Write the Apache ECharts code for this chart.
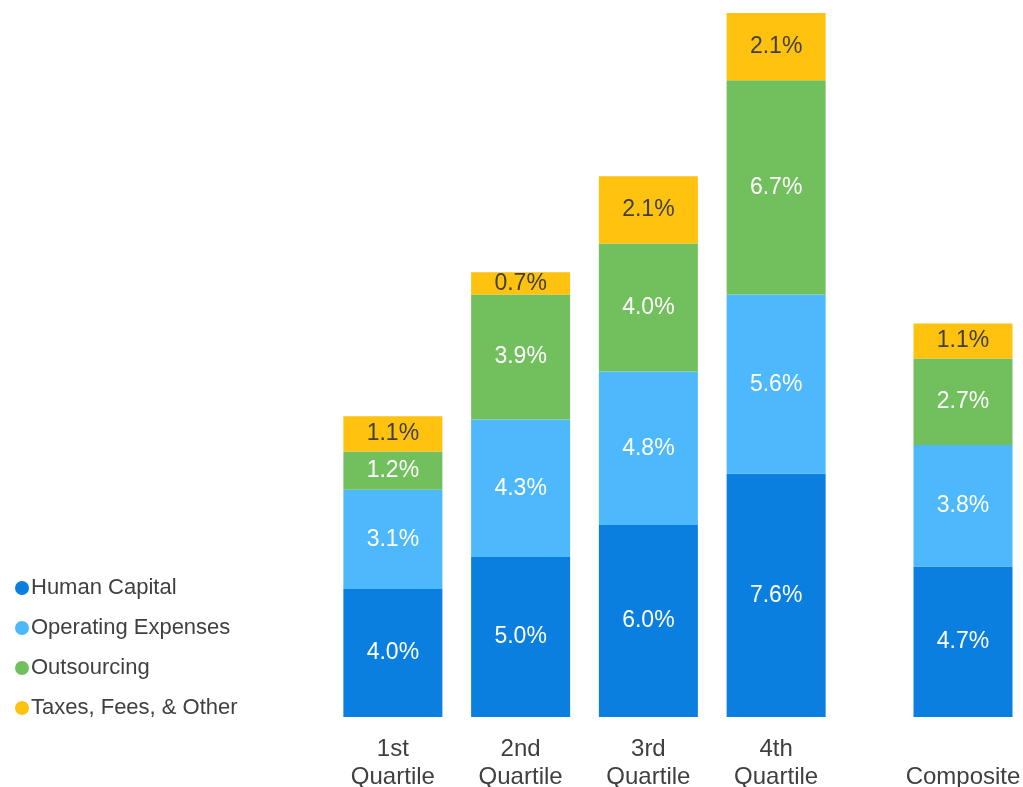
<!DOCTYPE html>
<html>
<head>
<meta charset="utf-8">
<script src="https://cdn.jsdelivr.net/npm/echarts@6/dist/echarts.min.js"></script>
<style>
html,body{margin:0;padding:0;background:#fff;}
#chart{width:1023px;height:787px;}
</style>
</head>
<body>
<div id="chart"></div>
<script>
var quartileCategories = ['1st\nQuartile', '2nd\nQuartile', '3rd\nQuartile', '4th\nQuartile'];
var compositeCategories = ['\nComposite'];
var seriesNames = ['Human Capital', 'Operating Expenses', 'Outsourcing', 'Taxes, Fees, & Other'];
var humanCapital = [4.0, 5.0, 6.0, 7.6];
var operatingExpenses = [3.1, 4.3, 4.8, 5.6];
var outsourcing = [1.2, 3.9, 4.0, 6.7];
var taxesFeesOther = [1.1, 0.7, 2.1, 2.1];
var compositeHumanCapital = [4.7];
var compositeOperatingExpenses = [3.8];
var compositeOutsourcing = [2.7];
var compositeTaxesFeesOther = [1.1];

var colors = ['#0A7FE0', '#4DB8FC', '#72BF5E', '#FFC20E'];
var labelColors = ['#ffffff', '#ffffff', '#ffffff', '#404040'];
var FONT = '"Liberation Sans", Arial, sans-serif';

var quartileData = [humanCapital, operatingExpenses, outsourcing, taxesFeesOther];
var compositeData = [compositeHumanCapital, compositeOperatingExpenses, compositeOutsourcing, compositeTaxesFeesOther];

function makeSeries(dataSets, axisIndex, stackName) {
  return dataSets.map(function (d, i) {
    return {
      name: seriesNames[i],
      type: 'bar',
      stack: stackName,
      xAxisIndex: axisIndex,
      yAxisIndex: axisIndex,
      barWidth: 99,
      data: d,
      itemStyle: { color: colors[i] },
      label: {
        show: true,
        position: 'inside',
        color: labelColors[i],
        fontSize: 23,
        fontFamily: FONT,
        formatter: function (p) { return p.value.toFixed(1) + '%'; }
      },
      emphasis: { disabled: true }
    };
  });
}

var axisLabelStyle = { color: '#404040', fontSize: 24, fontFamily: FONT, lineHeight: 28, margin: 18, interval: 0 };

var chart = echarts.init(document.getElementById('chart'));
chart.setOption({
  animation: false,
  color: colors,
  legend: {
    orient: 'vertical',
    left: 10,
    top: 572,
    icon: 'circle',
    itemWidth: 14,
    itemHeight: 14,
    itemGap: 18,
    textStyle: { color: '#404040', fontSize: 22, fontFamily: FONT, lineHeight: 22, padding: [0, 0, 0, -3] },
    data: seriesNames
  },
  grid: [
    { left: 329, width: 511, top: 13, bottom: 70, outerBoundsMode: 'none', containLabel: false },
    { left: 913, width: 100, top: 13, bottom: 70, outerBoundsMode: 'none', containLabel: false }
  ],
  xAxis: [
    { type: 'category', gridIndex: 0, data: quartileCategories, axisLine: { show: false }, axisTick: { show: false }, axisLabel: axisLabelStyle },
    { type: 'category', gridIndex: 1, data: compositeCategories, axisLine: { show: false }, axisTick: { show: false }, axisLabel: axisLabelStyle }
  ],
  yAxis: [
    { type: 'value', gridIndex: 0, min: 0, max: 22, show: false, splitLine: { show: false } },
    { type: 'value', gridIndex: 1, min: 0, max: 22, show: false, splitLine: { show: false } }
  ],
  series: makeSeries(quartileData, 0, 'q').concat(makeSeries(compositeData, 1, 'c'))
});
</script>
</body>
</html>
